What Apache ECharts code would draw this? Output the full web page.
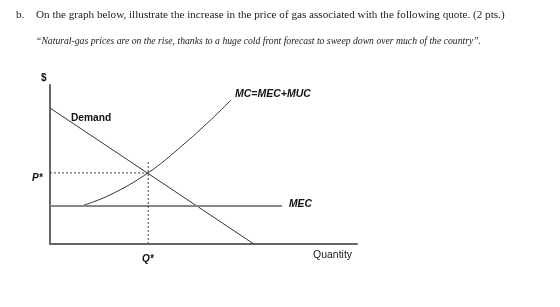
<!DOCTYPE html>
<html>
<head>
<meta charset="utf-8">
<script src="https://cdn.jsdelivr.net/npm/echarts@6/dist/echarts.min.js"></script>
<style>
  html, body { margin: 0; padding: 0; background: #fff; }
  #chart { width: 560px; height: 307px; }
</style>
</head>
<body>
<div id="chart"></div>
<script>
// values (quantity 0-100, price 0-100)
var demandQ = [0, 66.4];
var demandP = [85.5, 0];
var mcQ = [10.2, 19.5, 32.0, 42.9, 52.6, 59.0];
var mcP = [23.9, 30.8, 44.8, 61.6, 78.5, 90.6];
var mecQ = [0, 75.6];
var mecLevel = 23.9;
var qStar = 32.0;
var pStar = 44.7;
var qStarLineTop = 52.8;

function pairs(xs, ys) {
  return xs.map(function (x, i) { return [x, ys[i]]; });
}

var myChart = echarts.init(document.getElementById('chart'));
var thin = { color: '#333', width: 1 };
var dotted = { color: '#444', width: 1, type: [2, 2] };

var option = {
  animation: false,
  grid: { left: 50, top: 85, width: 307, height: 159 },
  xAxis: {
    type: 'value', min: 0, max: 100,
    axisLine: { lineStyle: { color: '#666', width: 2 } },
    axisTick: { show: false }, axisLabel: { show: false }, splitLine: { show: false }
  },
  yAxis: {
    type: 'value', min: 0, max: 100,
    axisLine: { show: true, lineStyle: { color: '#666', width: 2 } },
    axisTick: { show: false }, axisLabel: { show: false }, splitLine: { show: false }
  },
  series: [
    { type: 'line', data: pairs(demandQ, demandP), symbol: 'none', lineStyle: thin },
    { type: 'line', data: pairs(mcQ, mcP), smooth: 0.4, symbol: 'none', lineStyle: thin },
    { type: 'line', data: pairs(mecQ, [mecLevel, mecLevel]), symbol: 'none', lineStyle: { color: '#888', width: 2 } },
    { type: 'line', data: [[0, pStar], [qStar, pStar]], symbol: 'none', lineStyle: dotted },
    { type: 'line', data: [[qStar, 0], [qStar, qStarLineTop]], symbol: 'none', lineStyle: dotted }
  ],
  graphic: [
    { type: 'text', left: 16, top: 10, style: { text: 'b.', font: '11.2px "Liberation Serif"', fill: '#222' } },
    { type: 'text', left: 36, top: 10, style: { text: 'On the graph below, illustrate the increase in the price of gas associated with the following quote. (2 pts.)', font: '11.15px "Liberation Serif"', fill: '#222' } },
    { type: 'text', left: 36, top: 36, style: { text: '\u201CNatural-gas prices are on the rise, thanks to a huge cold front forecast to sweep down over much of the country\u201D.', font: 'italic 9.7px "Liberation Serif"', fill: '#222' } },
    { type: 'text', left: 41, top: 73, style: { text: '$', font: 'bold 10px "Liberation Sans"', fill: '#111' } },
    { type: 'text', left: 71, top: 113, style: { text: 'Demand', font: 'bold 10.2px "Liberation Sans"', fill: '#111' } },
    { type: 'text', left: 235, top: 89, style: { text: 'MC=MEC+MUC', font: 'italic bold 10.5px "Liberation Sans"', fill: '#111' } },
    { type: 'text', left: 289, top: 199, style: { text: 'MEC', font: 'italic bold 10.3px "Liberation Sans"', fill: '#111' } },
    { type: 'text', left: 32, top: 173, style: { text: 'P*', font: 'italic bold 10px "Liberation Sans"', fill: '#111' } },
    { type: 'text', left: 142, top: 254, style: { text: 'Q*', font: 'italic bold 10px "Liberation Sans"', fill: '#111' } },
    { type: 'text', left: 313, top: 250, style: { text: 'Quantity', font: '10.5px "Liberation Sans"', fill: '#222' } }
  ]
};
myChart.setOption(option);
</script>
</body>
</html>
